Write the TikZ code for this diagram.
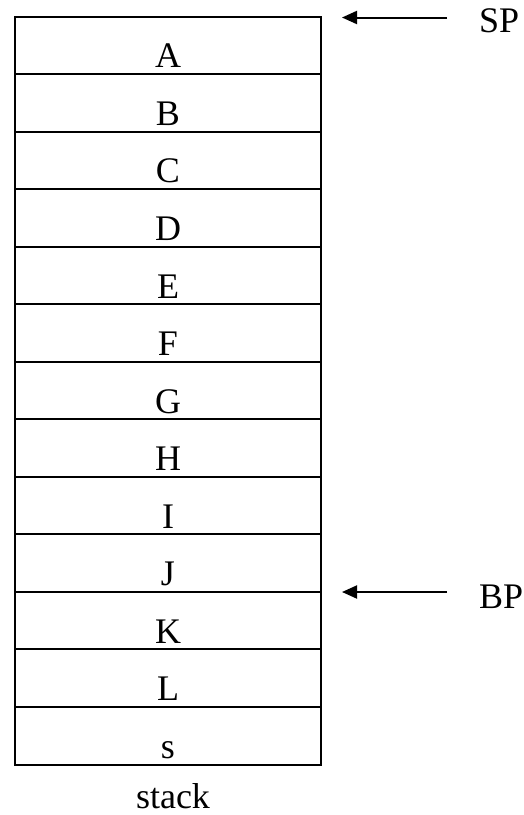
\documentclass[tikz,border=0pt]{standalone}
\usepackage{fontspec}
\setmainfont{Liberation Serif}
\usetikzlibrary{arrows.meta}
\begin{document}
\begin{tikzpicture}[x=1pt,y=-1pt,
  cell/.style={draw, line width=2pt, rectangle, inner sep=0pt,
    minimum width=306.6pt, minimum height=57.54pt},
  bigtext/.style={inner sep=0pt, font=\fontsize{36}{42}\selectfont},
  celltext/.style={bigtext, anchor=base},
  pointer/.style={line width=2pt, -{Triangle[length=15pt,width=13pt]}},
  ptrlabel/.style={bigtext, anchor=base west}]
  \useasboundingbox (0,0) rectangle (524,815);
  % stack cells, top to bottom
  \foreach \t [count=\i] in {A,B,C,D,E,F,G,H,I,J,K,L,s} {
    \node[cell] (c\i) at (168, {16.5 + (\i-0.5)*57.54}) {};
    \node[celltext] (t\i) at (168, {16.5 + \i*57.54 - 6.2}) {\t};
  }
  \node[bigtext, anchor=base] (caption) at (173,808.5) {stack};
  % stack pointer
  \coordinate (spTail) at (447,17.5);
  \coordinate (spTip) at (342,17.5);
  \draw[pointer] (spTail) -- (spTip);
  \node[ptrlabel] (sp) at (479,32) {SP};
  % base pointer
  \coordinate (bpTail) at (447,592);
  \coordinate (bpTip) at (342,592);
  \draw[pointer] (bpTail) -- (bpTip);
  \node[ptrlabel] (bp) at (479,608) {BP};
\end{tikzpicture}
\end{document}
